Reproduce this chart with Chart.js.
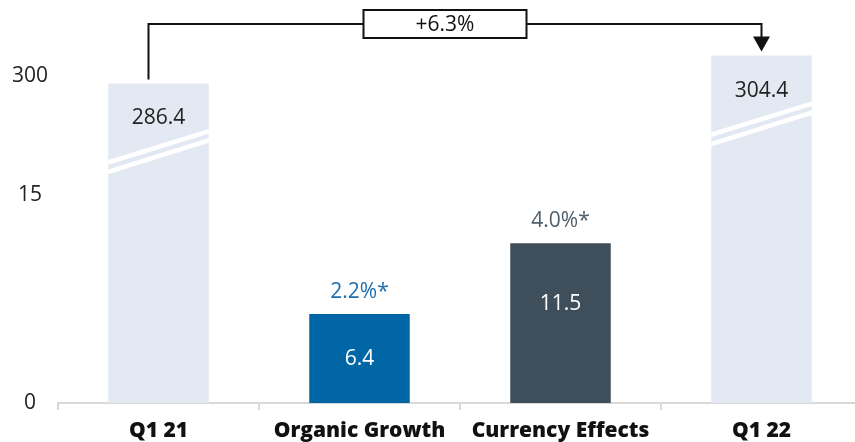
<!DOCTYPE html>
<html>
<head>
<meta charset="utf-8">
<script src="https://cdn.jsdelivr.net/npm/chart.js@4"></script>
<style>
    html, body { margin: 0; padding: 0; background: #fff; overflow: hidden; }
    #wrap { width: 862px; height: 442px; position: relative; }
</style>
</head>
<body>
<div id="wrap"><canvas id="chart"></canvas></div>
<script>
// Chart values
const categories = ['Q1 21', 'Organic Growth', 'Currency Effects', 'Q1 22'];
const values = [286.4, 6.4, 11.5, 304.4];
const growthLabels = ['', '2.2%*', '4.0%*', ''];
const totalGrowth = '+6.3%';
const yTickLabels = ['0', '15', '300'];

// Colours per bar
const barColors = ['#e3e9f2', '#0066a6', '#3e4f5b', '#e3e9f2'];
const growthColors = ['#222', '#1f6ead', '#4f5e6a', '#222'];
const valueColors = ['#222', '#ffffff', '#ffffff', '#222'];

const FONT = '"Open Sans", "Noto Sans", sans-serif';

// Broken axis: everything above 15 is squeezed into the top band
const AXIS_BREAK = { below: 15, base: 214.4, factor: 1 / 9, labelPos: [0, 15, 23.5] };
function squeeze(v) {
    return v <= AXIS_BREAK.below ? v : AXIS_BREAK.below + (v - AXIS_BREAK.base) * AXIS_BREAK.factor;
}

const isTotal = i => i === 0 || i === categories.length - 1;

// Break stripes, value labels and growth labels
const barLabels = {
    id: 'barLabels',
    afterDatasetsDraw(chart) {
        const ctx = chart.ctx;
        const meta = chart.getDatasetMeta(0);
        ctx.save();
        meta.data.forEach((bar, i) => {
            const left = bar.x - bar.width / 2;
            const right = bar.x + bar.width / 2;
            const top = bar.y;
            const bottom = bar.base;

            if (isTotal(i)) {
                // two white diagonal stripes marking the axis break
                ctx.fillStyle = '#ffffff';
                [[79, 48], [88.5, 57]].forEach(([l, r]) => {
                    ctx.beginPath();
                    ctx.moveTo(left, top + l - 2.3);
                    ctx.lineTo(right, top + r - 2.3);
                    ctx.lineTo(right, top + r + 2.3);
                    ctx.lineTo(left, top + l + 2.3);
                    ctx.closePath();
                    ctx.fill();
                });
            }

            ctx.font = '21px ' + FONT;
            ctx.textAlign = 'center';
            ctx.textBaseline = 'middle';
            ctx.fillStyle = valueColors[i];
            const vy = isTotal(i) ? top + 35 : top + Math.min((bottom - top) / 2, 61);
            ctx.fillText(values[i].toFixed(1), bar.x, vy);

            if (growthLabels[i]) {
                ctx.fillStyle = growthColors[i];
                ctx.fillText(growthLabels[i], bar.x, top - 22);
            }
        });
        ctx.restore();
    }
};

// Bracket with arrow from first to last total
const bracket = {
    id: 'bracket',
    afterDraw(chart) {
        const ctx = chart.ctx;
        const meta = chart.getDatasetMeta(0);
        const first = meta.data[0];
        const last = meta.data[meta.data.length - 1];
        const yLine = chart.chartArea.top + 24;
        ctx.save();
        ctx.strokeStyle = '#111';
        ctx.lineWidth = 2;
        ctx.beginPath();
        ctx.moveTo(first.x - 10, first.y - 4);
        ctx.lineTo(first.x - 10, yLine);
        ctx.lineTo(last.x, yLine);
        ctx.lineTo(last.x, last.y - 16);
        ctx.stroke();

        // arrow head
        ctx.fillStyle = '#111';
        ctx.beginPath();
        ctx.moveTo(last.x - 8.5, last.y - 19);
        ctx.lineTo(last.x + 8.5, last.y - 19);
        ctx.lineTo(last.x, last.y - 4);
        ctx.closePath();
        ctx.fill();

        // label box
        const cx = (first.x + last.x) / 2 - 15;
        const w = 163, h = 28;
        ctx.fillStyle = '#fff';
        ctx.fillRect(cx - w / 2, yLine - h / 2, w, h);
        ctx.strokeRect(cx - w / 2, yLine - h / 2, w, h);
        ctx.fillStyle = '#111';
        ctx.font = '21px ' + FONT;
        ctx.textAlign = 'center';
        ctx.textBaseline = 'middle';
        ctx.fillText(totalGrowth, cx, yLine + 1);
        ctx.restore();
    }
};

const ctx = document.getElementById('chart').getContext('2d');
new Chart(ctx, {
    type: 'bar',
    data: {
        labels: categories,
        datasets: [{
            data: values.map(squeeze),
            backgroundColor: barColors,
            borderWidth: 0,
            barPercentage: 1,
            categoryPercentage: 0.5
        }]
    },
    options: {
        responsive: true,
        maintainAspectRatio: false,
        animation: false,
        layout: { padding: 0 },
        plugins: {
            legend: { display: false },
            tooltip: { enabled: false }
        },
        scales: {
            x: {
                grid: {
                    display: true,
                    offset: true,
                    drawOnChartArea: false,
                    drawTicks: true,
                    tickLength: 7,
                    color: '#d9d9d9',
                    lineWidth: 2
                },
                border: { display: true, color: '#d9d9d9', width: 2 },
                ticks: {
                    color: '#111',
                    padding: 8,
                    maxRotation: 0,
                    font: { family: FONT, size: 21, weight: 900 }
                },
                afterFit(scale) { scale.height = 39; }
            },
            y: {
                min: 0,
                max: 29,
                grid: { display: false },
                border: { display: false },
                ticks: {
                    color: '#222',
                    padding: 2,
                    crossAlign: 'center',
                    font: { family: FONT, size: 21 },
                    callback: (v, i) => yTickLabels[i]
                },
                afterBuildTicks(scale) {
                    scale.ticks = AXIS_BREAK.labelPos.map(v => ({ value: v }));
                },
                afterFit(scale) {
                    scale.width = 58;
                    scale.paddingTop = 0;
                    scale.paddingBottom = 0;
                }
            }
        }
    },
    plugins: [barLabels, bracket]
});
</script>
</body>
</html>
